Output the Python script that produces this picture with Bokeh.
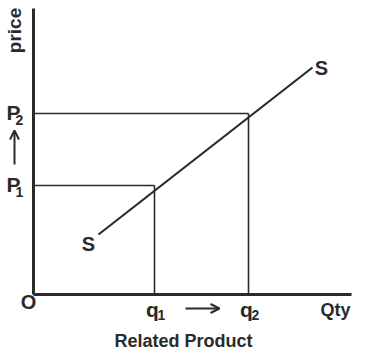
from bokeh.plotting import figure
from bokeh.models import Range1d, Arrow, OpenHead
from bokeh.core.properties import value
from bokeh.embed import file_html
from bokeh.resources import INLINE

# Data (units: quantity / price, origin at 0)
q_levels = [121, 215]          # q1, q2
p_levels = [109, 181]          # P1, P2
supply_q = [65, 279]
supply_p = [60, 227]
q_labels = ["q", "q"]
q_subs = ["1", "2"]
p_labels = ["P", "P"]
p_subs = ["1", "2"]

INK = "#2a2a2a"
FONT = value("Liberation Sans")

p = figure(width=370, height=360, output_backend="svg", toolbar_location=None,
           x_range=Range1d(-33, 337), y_range=Range1d(-66, 294),
           min_border=0, min_border_left=0, min_border_right=0,
           min_border_top=0, min_border_bottom=0)
p.axis.visible = False
p.grid.visible = False
p.outline_line_color = None
p.background_fill_color = "white"
p.border_fill_color = "white"

# axes
p.line([0, 0], [0, 286], line_color=INK, line_width=3)
p.line([0, 318], [0, 0], line_color=INK, line_width=3)

# guide lines
for q, pr in zip(q_levels, p_levels):
    p.line([0, q], [pr, pr], line_color=INK, line_width=1.6)
    p.line([q, q], [0, pr], line_color=INK, line_width=1.6)

# supply curve
p.line(supply_q, supply_p, line_color=INK, line_width=2.2)

def txt(x, y, t, size, angle=0, align="center"):
    p.text(x=[x], y=[y], text=[t], text_font=FONT, text_font_style="bold",
           text_font_size=size, text_color=INK, text_align=align,
           text_baseline="middle", angle=angle)

# price label
txt(-19, 264, "price", "19px", angle=1.5708)

# P labels
for pr, lab, sub in zip(p_levels, p_labels, p_subs):
    txt(-20, pr + 1, lab, "21px")
    txt(-14, pr - 6, sub, "14px")

# q labels
for q, lab, sub in zip(q_levels, q_labels, q_subs):
    txt(q - 2, -15, lab, "21px")
    txt(q + 7, -20, sub, "14px")

txt(-5, -7, "O", "20px")
txt(302, -15, "Qty", "18px")
txt(150, -46, "Related Product", "18px")
txt(55, 51, "S", "20px")
txt(288, 227, "S", "20px")

# arrows
p.add_layout(Arrow(end=OpenHead(size=9, line_color=INK, line_width=2),
                   x_start=-19, y_start=130, x_end=-19, y_end=164,
                   line_color=INK, line_width=2))
p.add_layout(Arrow(end=OpenHead(size=9, line_color=INK, line_width=2),
                   x_start=152, y_start=-14, x_end=186, y_end=-14,
                   line_color=INK, line_width=2))

open("out.html", "w").write(file_html(p, INLINE))
